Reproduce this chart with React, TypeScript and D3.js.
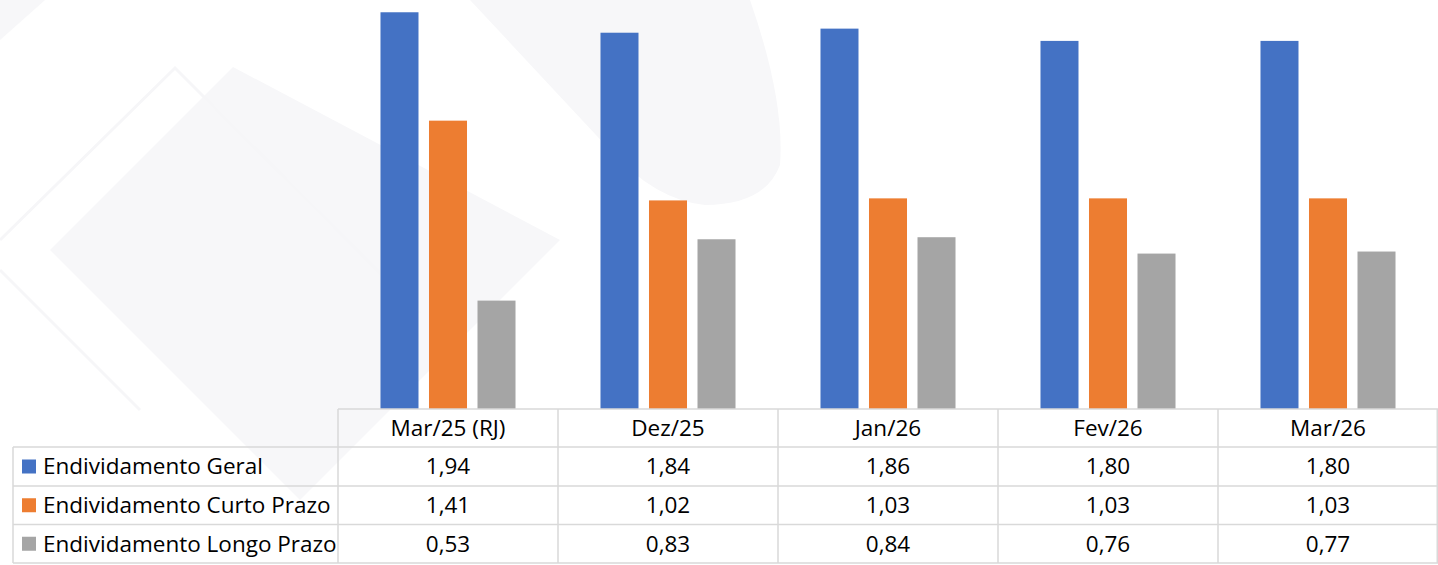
import React, { useEffect, useRef } from 'react';
import * as d3 from 'd3';

const categories = ['Mar/25 (RJ)', 'Dez/25', 'Jan/26', 'Fev/26', 'Mar/26'];
const seriesNames = ['Endividamento Geral', 'Endividamento Curto Prazo', 'Endividamento Longo Prazo'];
const colors = ['#4472c4', '#ed7d31', '#a5a5a5'];
const geral = [1.94, 1.84, 1.86, 1.80, 1.80];
const curto = [1.41, 1.02, 1.03, 1.03, 1.03];
const longo = [0.53, 0.83, 0.84, 0.76, 0.77];

const W = 1438;
const H = 565;

const fmt = (v: number) => v.toFixed(2).replace('.', ',');

export default function App() {
	const ref = useRef<SVGSVGElement>(null);

	useEffect(() => {
		document.body.style.margin = '0';
		const svg = d3.select(ref.current);
		svg.selectAll('*').remove();

		const values = [geral, curto, longo];
		const tableLeft = 13;
		const plotLeft = 338;
		const baseY = 409;
		const rowY = [409, 447, 486, 524.5, 563];

		const x0 = d3.scaleBand<string>().domain(categories).range([plotLeft, W]).paddingInner(0).paddingOuter(0);
		const x1 = d3.scaleBand<string>().domain(seriesNames).range([0, x0.bandwidth()])
			.paddingInner(0.2165).paddingOuter(0.876);
		const y = d3.scaleLinear().domain([0, 2]).range([baseY, 0]);

		// faint watermark shapes in the background
		const wm = svg.append('g');
		wm.append('polygon')
			.attr('points', '233,67 50,250 300,500 560,240')
			.attr('fill', '#f7f7f9');
		wm.append('polyline')
			.attr('points', '0,240 175,68 420,313')
			.attr('fill', 'none')
			.attr('stroke', '#f6f6f8')
			.attr('stroke-width', 3);
		wm.append('polyline')
			.attr('points', '0,270 140,410')
			.attr('fill', 'none')
			.attr('stroke', '#f6f6f8')
			.attr('stroke-width', 3);
		wm.append('path')
			.attr('d', 'M470,0 L750,0 Q785,100 780,165 Q765,205 705,205 Q655,200 610,150 Z')
			.attr('fill', '#f7f7f9');
		wm.append('polygon')
			.attr('points', '0,0 45,0 0,40')
			.attr('fill', '#f7f7f9');

		// bars
		const groups = svg.append('g')
			.selectAll('g')
			.data(categories)
			.join('g')
			.attr('transform', c => `translate(${x0(c)},0)`);

		groups.selectAll('rect')
			.data((c, i) => seriesNames.map((s, k) => ({ s, k, v: values[k][i] })))
			.join('rect')
			.attr('x', d => x1(d.s)!)
			.attr('y', d => y(d.v))
			.attr('width', x1.bandwidth())
			.attr('height', d => baseY - y(d.v))
			.attr('fill', d => colors[d.k]);

		// table grid
		const grid = svg.append('g').attr('stroke', '#d9d9d9').attr('stroke-width', 1.5).attr('fill', 'none');
		grid.append('line').attr('x1', plotLeft).attr('x2', W).attr('y1', rowY[0]).attr('y2', rowY[0]);
		for (let r = 1; r < rowY.length; r++) {
			grid.append('line').attr('x1', tableLeft).attr('x2', W).attr('y1', rowY[r]).attr('y2', rowY[r]);
		}
		grid.append('line').attr('x1', tableLeft).attr('x2', tableLeft).attr('y1', rowY[1]).attr('y2', rowY[4]);
		categories.forEach(c => {
			grid.append('line').attr('x1', x0(c)!).attr('x2', x0(c)!).attr('y1', rowY[0]).attr('y2', rowY[4]);
		});
		grid.append('line').attr('x1', W - 0.75).attr('x2', W - 0.75).attr('y1', rowY[0]).attr('y2', rowY[4]);

		const font = '"Open Sans", Lato, sans-serif';
		const fs = 22.5;

		// header labels
		svg.append('g')
			.selectAll('text')
			.data(categories)
			.join('text')
			.attr('x', c => x0(c)! + x0.bandwidth() / 2)
			.attr('y', (rowY[0] + rowY[1]) / 2)
			.attr('dy', '0.35em')
			.attr('text-anchor', 'middle')
			.attr('font-family', font)
			.attr('font-size', fs)
			.attr('fill', '#000')
			.text(c => c);

		// legend column + values
		seriesNames.forEach((s, k) => {
			const cy = (rowY[k + 1] + rowY[k + 2]) / 2;
			svg.append('rect')
				.attr('x', 22)
				.attr('y', cy - 7)
				.attr('width', 14)
				.attr('height', 14)
				.attr('fill', colors[k]);
			svg.append('text')
				.attr('x', 43)
				.attr('y', cy)
				.attr('dy', '0.35em')
				.attr('font-family', font)
				.attr('font-size', fs)
				.attr('fill', '#000')
				.text(s);
			svg.append('g')
				.selectAll('text')
				.data(values[k])
				.join('text')
				.attr('x', (v, i) => x0(categories[i])! + x0.bandwidth() / 2)
				.attr('y', cy)
				.attr('dy', '0.35em')
				.attr('text-anchor', 'middle')
				.attr('font-family', font)
				.attr('font-size', fs)
				.attr('fill', '#000')
				.text(v => fmt(v));
		});
	}, []);

	return (
		<div style={{ position: 'absolute', left: 0, top: 0 }}>
			<svg ref={ref} width={W} height={H} viewBox={`0 0 ${W} ${H}`} style={{ display: 'block', background: '#fff' }} />
		</div>
	);
}
